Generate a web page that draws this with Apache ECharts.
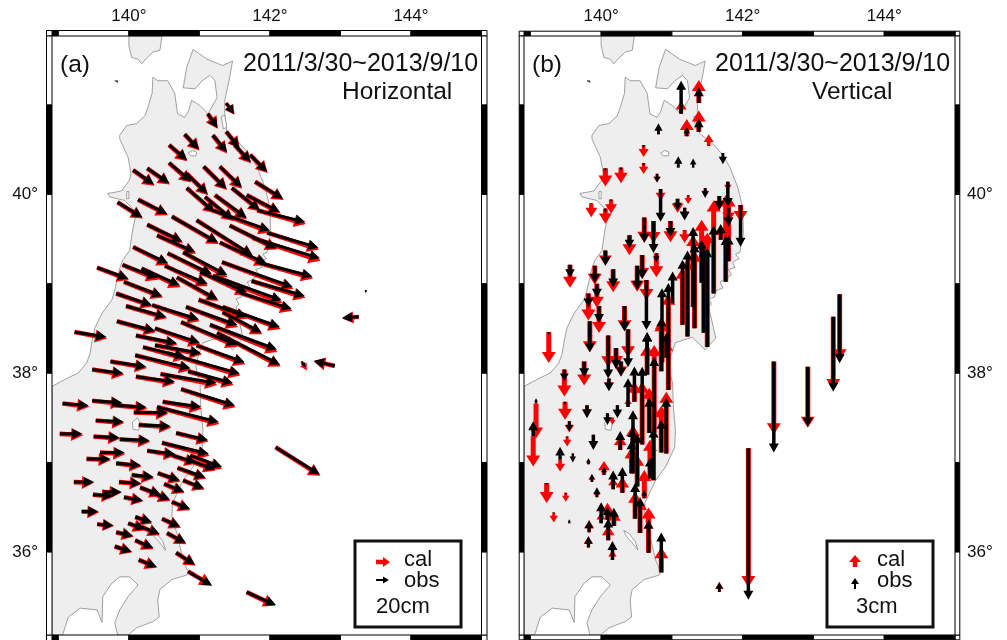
<!DOCTYPE html>
<html><head><meta charset="utf-8">
<style>html,body{margin:0;padding:0;background:#fff}#c{width:1007px;height:640px}</style>
<script src="https://cdn.jsdelivr.net/npm/echarts@6/dist/echarts.min.js"></script>
</head><body><div id="c"></div>
<script>
// --- map ---
const coastLon=[138.91,139.12,139.28,139.40,139.45,139.48,139.52,139.62,139.76,139.80,139.87,139.91,140.01,140.06,140.11,139.94,139.73,139.70,139.79,139.90,140.01,140.03,139.99,139.87,139.87,139.97,140.11,140.23,140.27,140.33,140.34,140.41,140.55,140.65,140.69,140.79,140.84,140.89,141.01,141.12,141.25,141.22,141.15,141.04,140.94,140.77,140.82,140.91,141.11,141.33,141.47,141.43,141.36,141.36,141.39,141.57,141.72,141.82,141.93,142.00,142.01,141.96,141.90,141.95,141.86,141.89,141.80,141.84,141.74,141.68,141.72,141.62,141.60,141.52,141.56,141.52,141.62,141.47,141.29,141.05,140.98,140.95,141.01,141.02,141.05,141.04,140.91,140.77,140.62,140.61,140.68,140.77,140.84,140.82,140.61,140.44,140.41,140.43,140.34,140.11,139.99,139.84,139.80,139.87,139.99,140.13,140.01,139.87,139.76,139.63,139.62,139.55,139.31,139.14,139.06,138.91];
const coastLat=[37.85,37.94,38.00,38.11,38.22,38.37,38.51,38.67,38.82,38.93,39.17,39.26,39.37,39.63,39.79,39.93,39.97,40.01,40.02,40.04,40.16,40.23,40.41,40.62,40.66,40.77,40.79,40.88,40.97,41.13,41.31,41.27,41.27,41.13,40.90,40.86,40.92,41.05,40.99,40.90,41.08,41.27,41.33,41.27,41.18,41.19,41.42,41.62,41.51,41.44,41.49,41.31,41.05,40.90,40.68,40.57,40.44,40.30,40.08,39.85,39.56,39.35,39.33,39.28,39.24,39.18,39.16,39.10,39.04,39.02,38.95,38.92,38.85,38.83,38.77,38.74,38.39,38.26,38.40,38.34,38.18,38.07,37.89,37.62,37.36,37.17,36.95,36.80,36.55,36.39,36.21,35.91,35.77,35.74,35.69,35.58,35.46,35.27,35.22,35.15,35.07,35.07,35.21,35.35,35.50,35.63,35.72,35.72,35.65,35.50,35.21,35.35,35.37,35.27,35.07,35.07];
const hokkaidoLon=[140.00,140.00,140.04,140.13,140.18,140.26,140.34,140.44,140.47];
const hokkaidoLat=[41.77,41.66,41.53,41.51,41.46,41.53,41.59,41.61,41.77];
const towadaLon=[140.84,140.90,140.96,140.95,140.88],towadaLat=[40.46,40.49,40.47,40.43,40.43];
const inawashiroLon=[140.05,140.12,140.16,140.14,140.06],inawashiroLat=[37.45,37.50,37.45,37.36,37.37];
const kasumiLon=[140.32,140.40,140.48,140.52,140.44,140.36],kasumiLat=[36.24,36.20,36.12,36.02,36.10,36.17];
const ogawaraLon=[141.31,141.36,141.39,141.34],ogawaraLat=[40.87,40.88,40.75,40.73];
const hachiroLon=[139.97,140.00,140.00,139.97],hachiroLat=[40.03,40.03,39.95,39.95];
const islandLon=[139.80,139.84,139.84],islandLat=[41.27,41.27,41.25];
// --- panel a: horizontal displacement (cm) ---
const aLon=[141.38,141.12,141.38,141.50,141.19,140.79,140.57,141.72,140.06,140.26,140.57,140.82,141.06,141.29,141.79,140.82,141.46,141.22,141.08,141.67,139.84,140.13,141.82,141.19,140.26,140.40,140.61,140.96,141.43,141.29,141.96,141.76,140.06,140.55,140.77,141.82,141.32,139.55,139.91,140.18,140.51,140.68,141.01,141.19,141.74,141.57,139.93,139.82,139.96,140.33,140.99,141.33,140.81,141.33,139.83,140.74,141.15,140.37,139.23,140.10,140.37,140.20,140.96,141.25,140.09,140.55,139.74,139.48,140.10,140.45,140.84,140.74,139.06,139.48,139.80,140.48,140.40,140.07,139.53,140.14,139.02,139.50,139.87,140.67,140.47,139.59,139.40,140.26,140.61,139.82,140.87,140.84,140.69,140.04,140.41,139.22,139.86,140.77,140.50,139.49,139.63,140.16,140.30,139.93,140.61,139.33,140.09,139.55,139.99,140.18,140.47,139.82,140.54,140.09,139.80,140.14,140.67,140.84,141.67,142.08,143.26,142.92,142.45,143.36];
const aLat=[41.02,40.90,40.70,40.55,40.66,40.67,40.55,40.44,40.27,40.29,40.35,40.23,40.31,40.31,40.14,40.07,40.07,39.99,39.97,39.99,39.91,39.94,39.82,39.82,39.66,39.54,39.75,39.71,39.65,39.46,39.57,39.51,39.41,39.34,39.35,39.24,39.24,39.18,39.21,39.17,39.20,39.07,39.13,39.09,39.03,38.90,39.02,38.89,38.75,38.76,38.82,38.74,38.74,38.68,38.58,38.57,38.54,38.50,38.46,38.42,38.31,38.29,38.31,38.45,38.20,38.22,38.13,38.04,37.96,37.99,38.02,37.82,37.66,37.69,37.64,37.68,37.62,37.56,37.47,37.42,37.32,37.29,37.26,37.33,37.22,37.11,37.04,37.13,37.08,36.99,37.08,37.03,36.94,36.86,36.88,36.78,36.78,36.80,36.76,36.64,36.67,36.72,36.67,36.61,36.56,36.45,36.39,36.31,36.32,36.28,36.37,36.22,36.21,36.13,36.06,35.91,35.99,35.78,35.55,37.17,38.63,38.08,38.13,38.93];
const aObsE=[12,15,20,25,22,22,28,26,32,34,34,32,35,34,43,43,43,49,43,51,38,45,74,88,54,59,71,86,72,72,79,103,54,68,68,85,109,48,54,59,66,63,72,106,82,80,59,55,62,72,74,88,79,60,59,86,103,69,49,63,71,65,74,97,85,111,55,48,60,86,69,83,40,46,49,59,95,52,43,49,35,40,46,49,72,38,37,43,38,38,49,42,43,34,34,31,34,32,31,31,29,32,31,29,28,26,26,25,26,28,28,26,29,28,26,28,29,37,45,68,-26,-32,6,0];
const aObsN=[-17,-22,-25,-26,-26,-23,-23,-26,-22,-23,-28,-31,-34,-32,-26,-37,-34,-35,-35,-26,-23,-22,-18,-31,-26,-26,-40,-54,-35,-32,-23,-31,-25,-32,-35,-22,-38,-17,-20,-26,-28,-34,-31,-38,-23,-25,-22,-18,-17,-22,-26,-31,-28,-31,-15,-35,-38,-22,-8,-12,-12,-15,-26,-49,-20,-31,-8,-6,-8,-14,-18,-25,-3,-3,-3,-8,-23,0,-2,-2,0,-2,-2,-11,-17,0,0,-5,-11,-3,-18,-15,-15,-3,-11,0,-2,-12,-12,-2,0,-11,-12,-5,-11,0,-8,-2,-9,-11,-12,-6,-15,-12,-8,-11,-18,-22,-20,-42,-2,8,-9,-5];
const aCalE=[13,15,21,25,22,23,28,27,33,35,34,33,36,34,44,44,44,49,44,52,39,46,75,89,55,60,72,87,73,72,80,104,55,69,68,86,110,49,55,60,66,64,73,107,83,81,60,56,63,73,75,89,80,61,60,87,104,70,50,64,72,66,75,98,86,112,56,49,60,87,70,84,41,47,50,60,96,53,44,50,36,41,47,50,73,39,37,44,38,39,49,42,44,34,35,31,35,33,31,32,29,33,31,30,28,27,26,26,26,28,29,27,30,28,27,28,30,36,44,69,-25,-33,8,0];
const aCalN=[-18,-23,-26,-28,-28,-25,-25,-28,-24,-25,-30,-33,-36,-34,-28,-39,-36,-37,-37,-28,-25,-24,-21,-34,-28,-28,-42,-56,-37,-35,-26,-35,-28,-35,-38,-25,-41,-19,-23,-29,-31,-36,-34,-42,-26,-28,-24,-20,-19,-25,-29,-34,-31,-34,-17,-38,-42,-25,-10,-14,-14,-18,-29,-52,-23,-34,-10,-8,-10,-17,-21,-28,-5,-5,-5,-11,-26,-2,-4,-4,-2,-3,-4,-13,-20,-2,-2,-7,-13,-5,-21,-17,-17,-5,-13,-1,-3,-14,-14,-3,-1,-13,-14,-6,-13,-1,-10,-3,-11,-13,-14,-7,-17,-14,-9,-12,-20,-21,-21,-44,-3,7,-14,-2];
// --- panel b: vertical displacement (cm) ---
const bLon=[141.13,141.38,141.38,141.21,141.52,140.81,140.60,140.60,141.09,141.30,141.72,140.79,140.06,140.28,139.86,140.14,140.06,140.84,141.08,141.23,141.18,141.47,141.67,141.79,141.97,141.76,141.80,141.69,141.59,141.30,141.32,141.22,141.15,141.42,141.45,141.50,140.98,141.18,140.61,140.74,140.78,140.58,140.64,141.01,139.56,139.91,139.94,139.82,139.97,139.84,139.26,140.17,140.06,140.40,140.51,140.33,140.38,140.21,140.28,140.10,140.11,139.76,139.48,139.49,139.80,139.55,139.52,139.89,139.08,139.04,140.09,140.23,140.16,139.42,139.60,139.23,139.50,139.33,139.55,139.82,139.87,140.04,139.94,140.17,140.30,140.43,140.48,140.61,140.55,140.67,140.85,140.16,139.82,139.83,140.10,140.00,140.09,140.18,141.67,142.08,142.44,142.92,143.28,143.37,140.69,140.65,140.75,140.47,140.58,140.38,140.45,140.44,140.51,140.68,140.74,140.85,140.92,140.71,140.86,140.95,140.85,140.92,140.27,141.80,140.65];
const bLat=[40.90,41.02,40.70,40.65,40.54,40.67,40.55,40.35,40.30,40.30,40.46,40.23,40.29,40.30,39.90,39.94,39.84,40.06,39.95,39.99,39.85,40.07,39.98,40.14,39.88,39.02,39.85,39.49,38.89,38.74,38.50,38.41,38.54,39.01,38.45,38.29,39.70,39.60,39.74,39.70,39.34,39.32,39.04,38.78,39.21,39.20,39.00,38.89,38.75,38.58,38.46,39.16,39.37,39.54,39.20,38.75,38.49,38.28,38.13,38.42,37.94,38.13,38.04,37.68,37.64,37.46,37.29,37.31,37.66,37.29,37.55,37.64,37.50,37.03,37.10,36.77,36.66,36.44,36.32,36.98,36.78,36.86,36.61,36.70,36.66,36.88,36.37,36.60,36.21,35.99,35.77,35.91,36.05,36.22,36.13,36.32,36.36,36.29,35.55,37.16,38.13,38.07,38.63,38.88,36.82,37.98,37.33,37.68,37.20,37.62,36.88,36.88,36.73,37.33,36.80,37.11,37.10,36.94,38.12,37.81,38.02,38.17,37.14,39.25,38.15];
const bObs=[8.9,4.3,3.5,2.4,0.3,3.0,-0.8,-0.8,3.0,2.4,-3.0,-2.4,-0.8,-0.8,-0.3,-0.5,-1.1,-8.9,-3.2,-0.5,-3.5,-2.7,-3.8,-6.8,-11.3,12.4,-5.1,4.3,18.4,21.6,23,23.2,17.6,11.6,23,26.7,-4.3,-0.3,-6.8,-8.6,-2.4,-6.5,-13.5,8.6,-3.5,-4.6,-3.8,-3.8,-4.6,-8.4,-0.8,-4.9,-4.1,-3.5,-6.5,-6.8,-10.3,-5.7,-4.1,-11.6,-3.5,-4.3,-3.2,-0.8,-3.5,-2.7,-0.5,-4.1,1.4,4.1,-3.2,-3.5,-0.3,3.5,-2.4,-0.5,-0.5,-0.3,1.1,1.6,2.2,2.2,2.7,5.1,7.0,8.9,9.7,2.2,9.7,8.9,10.8,5.1,3.0,3.2,5.9,5.7,3.5,4.9,2.7,-41,-24.6,-16.2,-20.3,-18.6,5.7,11.6,20.5,9.5,21,7.8,17,12.2,14.3,9.5,14,8.9,15.1,2.7,20,28.9,14.6,6.8,5.1,7,7.3];
const bCal=[3.5,6.2,5.7,4.6,3.2,0.3,-3.2,-3.0,0.3,0.5,-0.5,-2.4,-4.9,-4.3,-3.8,-3.8,-4.1,-3.2,-3.8,-2.4,-3.0,-2.2,-3.8,-2.4,-4.6,23.5,-4.0,4.0,25.1,19.4,21,21,15.4,17,26.5,31,-5.7,-3.5,-6.8,-5.9,-6.5,-6.5,-5.4,1.4,-6.2,-5.1,-6.5,-7.3,-7.3,-8.4,-8.4,-6.2,-4.1,-5.4,-7,-6.8,-7.6,-5.1,-4.1,-8.6,-3.2,-6.5,-7.3,-4.9,-3.2,-3.0,-2.7,-0.5,-9.5,-8.1,-1.4,-0.5,-1.9,-3.2,-0.5,-5.4,-2.4,-2.7,0.3,1.4,2.2,3.8,1.9,3.2,4.3,7.0,7.3,7.6,9.2,12.2,6.8,2.7,3.0,3.2,4.0,3.0,4.6,4.3,2.7,-37.5,-19.7,-16.5,-19.8,-17.8,10.5,8.1,23.8,5.4,17,2.4,13,7,8.6,12.2,20,12.7,16.7,2.4,12,26,13.8,4.9,4,17.8,4];
const bZero=bLon.map(()=>0);
// --- axes ---
const lonTicks=[140,142,144], latTicks=[36,38,40];
const lonBands=[138.91,139,140,141,142,143,144,145];
const latBands=[35.07,36,37,38,39,40,41,41.77];
const lonRange=[138.91,145], latRange=[35.07,41.77];
const dateText='2011/3/30~2013/9/10';

const FONT='"Liberation Sans",Arial,sans-serif';
function polySeries(g,lons,lats,fill,stroke,w){
  return {type:'custom',coordinateSystem:'cartesian2d',xAxisIndex:g,yAxisIndex:g,silent:true,z:2,clip:true,
    data:lons.map((v,i)=>[v,lats[i]]),
    renderItem(p,api){
      if(p.dataIndex!==0) return null;
      const pts=lons.map((v,i)=>api.coord([v,lats[i]]));
      return {type:'polygon',shape:{points:pts},style:{fill,stroke,lineWidth:w}};
    }};
}
function arrowSeries(g,lon,lat,e,n,pxPerCm,color,sw,hw,hl,z){
  return {type:'custom',coordinateSystem:'cartesian2d',xAxisIndex:g,yAxisIndex:g,silent:true,z,clip:false,
    data:lon.map((v,i)=>[v,lat[i],e[i],n[i]]),
    encode:{x:0,y:1},
    renderItem(p,api){
      const a=api.coord([api.value(0),api.value(1)]);
      const dx=api.value(2)*pxPerCm, dy=-api.value(3)*pxPerCm, L=Math.hypot(dx,dy);
      if(L<0.8) return null;
      const k=Math.min(1,L/(hl*1.5)), ux=dx/L, uy=dy/L, nx=-uy, ny=ux;
      const H=hl*k, W=hw*k/2, S=sw*Math.max(k,0.6)/2;
      const b=[a[0]+dx,a[1]+dy], m=[b[0]-ux*H,b[1]-uy*H];
      return {type:'polygon',shape:{points:[
        [a[0]+nx*S,a[1]+ny*S],[m[0]+nx*S,m[1]+ny*S],[m[0]+nx*W,m[1]+ny*W],b,
        [m[0]-nx*W,m[1]-ny*W],[m[0]-nx*S,m[1]-ny*S],[a[0]-nx*S,a[1]-ny*S]]},
        style:{fill:color}};
    }};
}
function frameSeries(g,band){
  const data=[];
  lonBands.slice(0,-1).forEach((v,i)=>data.push(['x',v,lonBands[i+1],i%2===0]));
  latBands.slice(0,-1).forEach((v,i)=>data.push(['y',v,latBands[i+1],i%2===1]));
  return {type:'custom',coordinateSystem:'cartesian2d',xAxisIndex:g,yAxisIndex:g,silent:true,z:20,clip:false,
    data:data.map((d,i)=>[i]),
    renderItem(p,api){
      const d=data[p.dataIndex], fill=d[3]?'#000':'#fff', ch=[];
      const st={fill,stroke:'#000',lineWidth:1};
      const tl=api.coord([lonRange[0],latRange[1]]), br=api.coord([lonRange[1],latRange[0]]);
      if(d[0]==='x'){
        const x0=api.coord([d[1],latRange[0]])[0], x1=api.coord([d[2],latRange[0]])[0];
        ch.push({type:'rect',shape:{x:x0,y:tl[1]-band,width:x1-x0,height:band},style:st});
        ch.push({type:'rect',shape:{x:x0,y:br[1],width:x1-x0,height:band},style:st});
      }else{
        const y0=api.coord([lonRange[0],d[2]])[1], y1=api.coord([lonRange[0],d[1]])[1];
        ch.push({type:'rect',shape:{x:tl[0]-band,y:y0,width:band,height:y1-y0},style:st});
        ch.push({type:'rect',shape:{x:br[0],y:y0,width:band,height:y1-y0},style:st});
      }
      if(p.dataIndex===0){
        [[tl[0]-band,tl[1]-band],[br[0],tl[1]-band],[tl[0]-band,br[1]],[br[0],br[1]]].forEach(c=>
          ch.push({type:'rect',shape:{x:c[0],y:c[1],width:band,height:band},style:{fill:'#fff',stroke:'#000',lineWidth:1}}));
      }
      return {type:'group',children:ch};
    }};
}
function lands(g){
  const LAND='#eeeeee',C='#666',W='#fff',w=0.6;
  return [
    polySeries(g,coastLon,coastLat,LAND,C,w),
    polySeries(g,hokkaidoLon,hokkaidoLat,LAND,C,w),
    polySeries(g,towadaLon,towadaLat,W,C,w),
    polySeries(g,inawashiroLon,inawashiroLat,W,C,w),
    polySeries(g,kasumiLon,kasumiLat,W,C,w),
    polySeries(g,ogawaraLon,ogawaraLat,W,C,w),
    polySeries(g,hachiroLon,hachiroLat,W,C,w),
    polySeries(g,islandLon,islandLat,'#333','#333',w)
  ];
}
function xAxis(g){return {gridIndex:g,type:'value',position:'top',min:lonRange[0],max:lonRange[1],
  axisLine:{show:false},axisTick:{show:false},splitLine:{show:false},
  axisLabel:{customValues:lonTicks,margin:11,fontFamily:FONT,fontSize:17,color:'#111',formatter:'{value}°'}};}
function yAxis(g,pos,m){return {gridIndex:g,type:'value',position:pos,min:latRange[0],max:latRange[1],
  axisLine:{show:false},axisTick:{show:false},splitLine:{show:false},
  axisLabel:{customValues:latTicks,margin:m,fontFamily:FONT,fontSize:17,color:'#111',formatter:'{value}°'}};}
const T=(x,y,text,fs)=>({type:'text',x,y,z:50,style:{text,fontFamily:FONT,fontSize:fs,fill:'#111',verticalAlign:'middle'}});
function gArrow(x0,y0,x1,y1,color,sw,hw,hl){
  const L=Math.hypot(x1-x0,y1-y0),ux=(x1-x0)/L,uy=(y1-y0)/L,nx=-uy,ny=ux,mx=x1-ux*hl,my=y1-uy*hl,S=sw/2,W=hw/2;
  return {type:'polygon',z:50,shape:{points:[[x0+nx*S,y0+ny*S],[mx+nx*S,my+ny*S],[mx+nx*W,my+ny*W],[x1,y1],[mx-nx*W,my-ny*W],[mx-nx*S,my-ny*S],[x0-nx*S,y0-ny*S]]},style:{fill:color}};
}
const box=(x,y,w,h)=>({type:'rect',z:49,shape:{x,y,width:w,height:h},style:{fill:'#fff',stroke:'#111',lineWidth:3}});
const chart=echarts.init(document.getElementById('c'),null,{renderer:'canvas'});
chart.setOption({
  animation:false,backgroundColor:'#fff',
  grid:[{left:52,top:36,width:429.5,height:599},{left:524,top:36,width:431,height:599}],
  xAxis:[xAxis(0),xAxis(1)],
  yAxis:[yAxis(0,'left',14),yAxis(1,'right',12)],
  series:[
    ...lands(0),...lands(1),
    arrowSeries(0,aLon,aLat,aCalE,aCalN,0.65,'#ff0000',4.6,13,12,5),
    arrowSeries(0,aLon,aLat,aObsE,aObsN,0.65,'#000000',3,10,10,6),
    arrowSeries(1,bLon,bLat,bZero,bCal,3.7,'#ff0000',5,14,11,5),
    arrowSeries(1,bLon,bLat,bZero,bObs,3.7,'#000000',3.5,10,9,6),
    frameSeries(0,5.5),frameSeries(1,4.8)
  ],
  graphic:[
    T(60,65,'(a)',24.5),T(243,64,dateText,25),T(342,92,'Horizontal',24.5),
    T(532,65,'(b)',24.5),T(715,64,dateText,25),T(812,92,'Vertical',24.5),
    box(355,541,106,86),box(827,541,106,86),
    gArrow(376,562,390,562,'#ff0000',4.5,10,7),gArrow(376,580,389,580,'#000',2,7,6),
    T(404,560,'cal',22),T(404,581,'obs',22),T(376,607,'20cm',22),
    gArrow(855,567,855,555,'#ff0000',4.5,12,7),gArrow(855,589,855,578,'#000',2,8,6),
    T(877,560,'cal',22),T(877,581,'obs',22),T(856,607,'3cm',22)
  ]
});
</script></body></html>
